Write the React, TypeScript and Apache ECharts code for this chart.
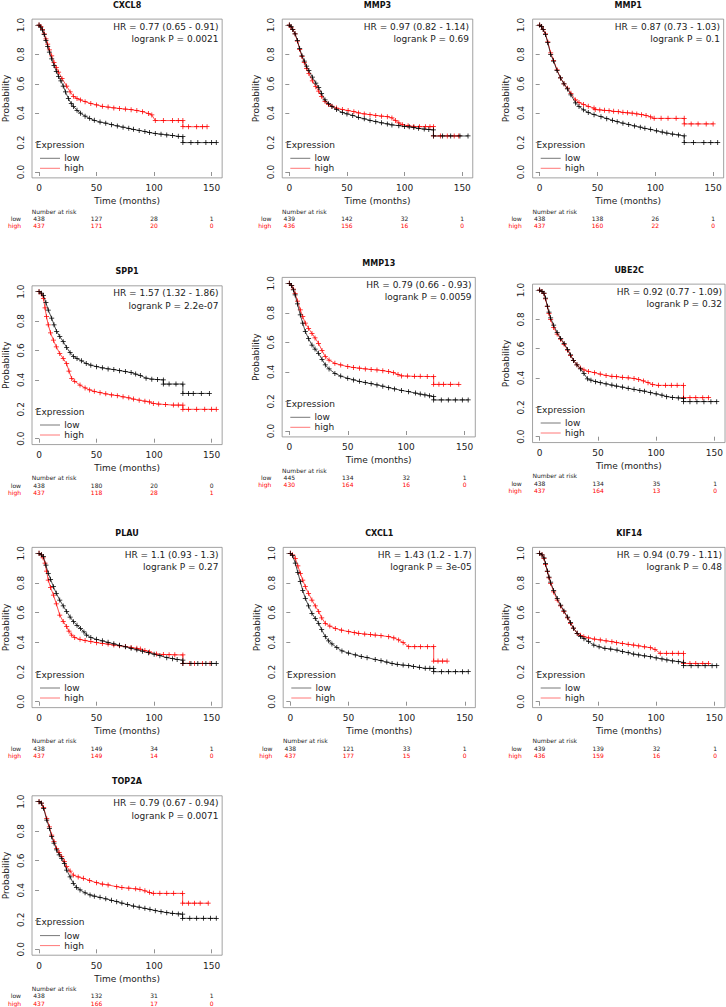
import React, { useEffect, useRef } from "react";
import * as echarts from "echarts";

const GENES = ["CXCL8", "MMP3", "MMP1", "SPP1", "MMP13", "UBE2C", "PLAU", "CXCL1", "KIF14", "TOP2A"];
const HR_LABELS = [
  "HR = 0.77 (0.65 - 0.91)", "HR = 0.97 (0.82 - 1.14)", "HR = 0.87 (0.73 - 1.03)",
  "HR = 1.57 (1.32 - 1.86)", "HR = 0.79 (0.66 - 0.93)", "HR = 0.92 (0.77 - 1.09)",
  "HR = 1.1 (0.93 - 1.3)", "HR = 1.43 (1.2 - 1.7)", "HR = 0.94 (0.79 - 1.11)",
  "HR = 0.79 (0.67 - 0.94)",
];
const P_LABELS = [
  "logrank P = 0.0021", "logrank P = 0.69", "logrank P = 0.1", "logrank P = 2.2e-07",
  "logrank P = 0.0059", "logrank P = 0.32", "logrank P = 0.27", "logrank P = 3e-05",
  "logrank P = 0.48", "logrank P = 0.0071",
];
const X_TICKS = [0, 50, 100, 150];
const Y_TICKS = [0, 0.2, 0.4, 0.6, 0.8, 1.0];
const RISK_TIMES = [0, 50, 100, 150];
const RISK_LOW = [
  [438, 127, 28, 1], [439, 142, 32, 1], [438, 138, 26, 1], [438, 180, 20, 0], [445, 134, 32, 1],
  [438, 134, 35, 1], [438, 149, 34, 1], [438, 121, 33, 1], [439, 139, 32, 1], [438, 132, 31, 1],
];
const RISK_HIGH = [
  [437, 171, 20, 0], [436, 156, 16, 0], [437, 160, 22, 0], [437, 118, 28, 1], [430, 164, 16, 0],
  [437, 164, 13, 0], [437, 149, 14, 0], [437, 177, 15, 0], [436, 159, 16, 0], [437, 166, 17, 0],
];

const CXCL8_LOW = [[0,1],[1.5,0.985],[3,0.965],[4.5,0.935],[6,0.895],[7.5,0.855],[9,0.815],[11,0.77],[13,0.725],[15,0.685],[17,0.65],[19,0.62],[21,0.585],[23,0.545],[25.5,0.5],[28,0.465],[30,0.445],[33,0.42],[36,0.4],[40,0.38],[44,0.365],[48,0.352],[53,0.34],[58,0.332],[63,0.322],[68,0.313],[73,0.305],[78,0.297],[82,0.29],[87,0.283],[92,0.275],[96,0.268],[101,0.262],[106,0.257],[111,0.252],[116,0.248],[121,0.243],[125,0.24],[125,0.2],[132,0.2],[138,0.2],[145,0.2],[150,0.2],[154,0.2]];
const CXCL8_HIGH = [[0,1],[1.5,0.99],[3,0.97],[4.5,0.94],[6,0.905],[7.5,0.87],[9,0.83],[11,0.79],[13,0.745],[15,0.71],[17,0.68],[20,0.635],[24,0.585],[27,0.545],[30,0.515],[33,0.5],[36,0.49],[40,0.478],[45,0.466],[50,0.456],[55,0.447],[60,0.442],[65,0.436],[70,0.432],[75,0.428],[80,0.424],[85,0.418],[90,0.41],[95,0.398],[98,0.388],[101,0.35],[108,0.35],[116,0.35],[121,0.35],[125,0.35],[125,0.308],[130,0.308],[137,0.308],[142,0.308],[146,0.308]];

const MMP3_LOW = [[0,1],[1.5,0.99],[3,0.97],[5,0.94],[7,0.895],[9,0.84],[11,0.79],[13,0.755],[15,0.72],[17,0.69],[20,0.645],[23,0.605],[25.5,0.575],[28,0.535],[31,0.49],[34,0.465],[37,0.445],[41,0.425],[46,0.405],[50,0.395],[55,0.385],[60,0.372],[65,0.362],[70,0.352],[75,0.342],[80,0.335],[85,0.327],[89,0.32],[95,0.315],[100,0.31],[104,0.307],[108,0.302],[112,0.297],[117,0.292],[121,0.289],[125,0.286],[125,0.245],[133,0.245],[140,0.245],[148,0.245],[155,0.245]];
const MMP3_HIGH = [[0,1],[1.5,0.985],[3,0.97],[5,0.94],[7,0.89],[9,0.835],[11,0.785],[13,0.745],[15,0.705],[17,0.67],[20,0.62],[23,0.58],[25.5,0.55],[28,0.515],[31,0.48],[34,0.46],[37,0.448],[41,0.435],[46,0.425],[51,0.418],[56,0.41],[60,0.402],[65,0.395],[70,0.39],[75,0.385],[80,0.38],[85,0.376],[89,0.368],[92,0.35],[95,0.335],[98,0.322],[103,0.315],[108,0.31],[113,0.308],[118,0.308],[122,0.308],[125,0.308],[125,0.245],[131,0.245],[137,0.245],[143,0.245],[147,0.245]];

const MMP1_LOW = [[0,1],[1.5,0.99],[3,0.97],[5,0.935],[7,0.88],[9.5,0.8],[12,0.755],[15,0.69],[18,0.64],[21,0.6],[24,0.565],[27,0.525],[31,0.47],[34,0.445],[38,0.423],[42,0.405],[47,0.39],[53,0.376],[58,0.363],[63,0.352],[67,0.342],[72,0.332],[77,0.323],[82,0.313],[87,0.305],[91,0.297],[96,0.29],[101,0.28],[106,0.272],[110,0.265],[115,0.258],[120,0.252],[125,0.245],[125,0.2],[133,0.2],[142,0.2],[148,0.2],[154,0.2]];
const MMP1_HIGH = [[0,1],[1.5,0.99],[3,0.97],[5,0.94],[7,0.885],[9.5,0.81],[12,0.76],[15,0.695],[18,0.64],[21,0.6],[24,0.57],[27,0.535],[31,0.49],[34,0.472],[38,0.46],[42,0.447],[47,0.435],[48,0.425],[52,0.422],[56,0.42],[60,0.417],[64,0.413],[68,0.41],[72,0.406],[76,0.403],[80,0.4],[84,0.395],[88,0.39],[92,0.385],[96,0.375],[99,0.365],[105,0.365],[111,0.365],[118,0.365],[125,0.365],[125,0.327],[131,0.327],[137,0.327],[144,0.327],[150,0.327]];

const SPP1_LOW = [[0,1],[2,0.99],[3.8,0.975],[6,0.925],[8,0.875],[11,0.82],[13,0.775],[15.3,0.73],[18,0.695],[21,0.66],[24,0.62],[27,0.585],[30,0.56],[33,0.545],[37,0.53],[41,0.512],[45,0.5],[50,0.49],[55,0.482],[60,0.475],[65,0.47],[70,0.463],[75,0.457],[80,0.45],[84,0.44],[88,0.43],[93,0.412],[98,0.405],[103,0.402],[108,0.4],[108,0.372],[113,0.372],[119,0.372],[125,0.372],[125,0.308],[130,0.308],[134,0.308],[141,0.308],[148,0.308]];
const SPP1_HIGH = [[0,1],[2,0.985],[3.8,0.955],[5.2,0.89],[6.5,0.83],[8,0.775],[10,0.72],[12.5,0.67],[15,0.625],[18,0.58],[21,0.545],[24,0.51],[26,0.46],[28.4,0.41],[31,0.39],[35.6,0.365],[40,0.345],[44,0.332],[48,0.322],[53,0.313],[58,0.305],[63,0.298],[68,0.293],[73,0.285],[78,0.278],[82,0.27],[87,0.262],[92,0.255],[96,0.25],[99.3,0.24],[104,0.236],[110,0.232],[116.7,0.229],[121,0.229],[125,0.229],[125,0.2],[130,0.2],[137,0.2],[144,0.2],[150,0.2],[154,0.2]];

const MMP13_LOW = [[0,1],[2,0.985],[3.5,0.955],[5,0.921],[7,0.86],[9.4,0.786],[11.5,0.73],[13.7,0.673],[16.5,0.625],[19.4,0.582],[22,0.555],[25,0.526],[28,0.485],[30.8,0.447],[34,0.42],[39,0.39],[44,0.372],[50,0.357],[55,0.346],[60,0.336],[65,0.328],[70,0.32],[75,0.312],[80,0.303],[85,0.293],[90,0.285],[96,0.275],[102,0.266],[108,0.257],[112,0.25],[116,0.244],[120,0.238],[123.5,0.232],[123.5,0.21],[130,0.21],[136,0.21],[142,0.21],[148,0.21],[153,0.21]];
const MMP13_HIGH = [[0,1],[2,0.985],[3.5,0.96],[5,0.93],[7,0.88],[9.4,0.82],[11.5,0.775],[13.7,0.73],[16.5,0.695],[19.4,0.66],[22,0.63],[25,0.594],[28,0.545],[30.8,0.503],[34,0.48],[39,0.458],[44,0.447],[50,0.436],[55,0.43],[60,0.425],[65,0.42],[70,0.417],[75,0.413],[80,0.408],[85,0.402],[89,0.395],[93,0.383],[96,0.373],[101,0.372],[107,0.37],[112,0.37],[118,0.369],[123.5,0.368],[123.5,0.316],[128,0.316],[132,0.316],[138,0.316],[145,0.316]];

const UBE2C_LOW = [[0,1],[2,0.99],[3.7,0.978],[5,0.945],[6.6,0.89],[8,0.85],[9.4,0.81],[12,0.76],[15,0.71],[18,0.67],[21,0.635],[24,0.595],[26.5,0.557],[29,0.52],[32,0.49],[35,0.462],[38,0.43],[41,0.395],[44,0.385],[48,0.375],[52,0.368],[57,0.36],[62,0.352],[66,0.345],[71,0.338],[76,0.33],[81,0.323],[86,0.315],[90,0.31],[95,0.3],[100,0.292],[105,0.283],[109,0.273],[114,0.268],[119,0.264],[123.5,0.261],[123.5,0.239],[129,0.239],[135,0.239],[141,0.239],[147,0.239],[152,0.239]];
const UBE2C_HIGH = [[0,1],[2,0.99],[3.7,0.975],[5,0.94],[6.6,0.886],[8,0.84],[9.4,0.8],[12,0.745],[15,0.7],[18,0.665],[21,0.63],[24,0.59],[26.5,0.555],[29,0.52],[32,0.49],[35,0.468],[38,0.455],[42,0.445],[47,0.436],[52,0.427],[57,0.418],[62,0.412],[66,0.409],[71,0.405],[76,0.401],[81,0.397],[85,0.39],[89,0.38],[93,0.368],[97,0.355],[102,0.35],[108,0.35],[113,0.35],[118,0.35],[123.5,0.35],[123.5,0.266],[129,0.266],[134,0.266],[140,0.266],[145,0.266]];

const PLAU_LOW = [[0,1],[2,0.99],[3.8,0.978],[6,0.92],[8,0.865],[10,0.825],[12.5,0.775],[15,0.73],[18,0.685],[21,0.645],[24,0.607],[27,0.57],[30,0.539],[33,0.515],[36,0.494],[39,0.47],[41.4,0.449],[45,0.432],[50,0.42],[55,0.41],[60,0.4],[65,0.39],[70,0.38],[75,0.37],[80,0.36],[85,0.35],[90,0.34],[95,0.33],[100,0.32],[105,0.31],[111,0.297],[116,0.29],[120,0.285],[125,0.28],[125,0.258],[132,0.258],[138,0.258],[145,0.258],[150,0.258],[154,0.258]];
const PLAU_HIGH = [[0,1],[2,0.99],[3.5,0.97],[5.2,0.933],[6.5,0.88],[8,0.82],[10,0.77],[12.5,0.719],[15,0.66],[18,0.584],[21,0.54],[24,0.506],[26,0.475],[28.4,0.449],[31,0.432],[35.6,0.42],[40,0.412],[45,0.405],[50,0.398],[55,0.393],[60,0.388],[65,0.382],[70,0.377],[75,0.372],[80,0.366],[85,0.36],[88,0.355],[92,0.345],[96,0.335],[102,0.321],[108,0.318],[113,0.317],[118,0.316],[125,0.315],[125,0.258],[131,0.258],[135,0.258],[142,0.258],[148.6,0.258]];

const CXCL1_LOW = [[0,1],[2,0.985],[4.3,0.933],[6.5,0.87],[8.6,0.809],[10.7,0.75],[12.9,0.697],[15.7,0.645],[18.6,0.596],[21.5,0.56],[24.4,0.528],[27,0.485],[30.1,0.438],[33,0.41],[35.8,0.389],[40,0.365],[44.4,0.342],[50,0.328],[55.9,0.315],[61,0.305],[66,0.297],[73,0.285],[78,0.276],[83,0.267],[87.5,0.258],[92,0.252],[97,0.247],[101.8,0.243],[106,0.238],[111,0.232],[116,0.225],[120,0.225],[123.3,0.225],[123.3,0.202],[130,0.202],[136,0.202],[142,0.202],[148,0.202],[153,0.202]];
const CXCL1_HIGH = [[0,1],[2,0.99],[4.3,0.966],[6.5,0.915],[8.6,0.865],[10.7,0.82],[12.9,0.775],[15.7,0.73],[18.6,0.685],[21.5,0.645],[24.4,0.607],[27,0.565],[30.1,0.528],[34,0.51],[38.7,0.494],[44,0.482],[50.2,0.472],[55,0.465],[58.8,0.461],[64,0.456],[69,0.452],[73,0.449],[78,0.445],[84.6,0.438],[89,0.43],[93.2,0.416],[97,0.398],[101.8,0.371],[107,0.371],[112,0.371],[118,0.371],[123.3,0.371],[123.3,0.274],[127,0.274],[131,0.274],[134.8,0.274]];

const KIF14_LOW = [[0,1],[2,0.99],[3.7,0.97],[5,0.93],[6.6,0.88],[8,0.84],[9.4,0.805],[12,0.75],[15.1,0.695],[18,0.65],[20.8,0.612],[24,0.57],[26.5,0.533],[29,0.495],[32.2,0.461],[35,0.44],[38,0.425],[42,0.405],[46.5,0.382],[51,0.37],[56,0.36],[61,0.355],[66.4,0.348],[71,0.338],[76,0.33],[80.7,0.321],[85,0.315],[90,0.309],[95,0.303],[100,0.295],[105,0.288],[109.2,0.281],[114,0.275],[119,0.27],[123.5,0.265],[123.5,0.243],[130,0.243],[136,0.243],[142,0.243],[148,0.243],[152,0.243]];
const KIF14_HIGH = [[0,1],[2,0.99],[3.7,0.966],[5,0.925],[6.6,0.876],[8,0.835],[9.4,0.798],[12,0.74],[15.1,0.685],[18,0.645],[20.8,0.607],[24,0.565],[26.5,0.528],[29,0.495],[32.2,0.461],[35,0.447],[37.9,0.438],[42,0.43],[47,0.422],[52,0.416],[57,0.41],[62,0.404],[66,0.398],[71,0.393],[76,0.387],[80.7,0.382],[85,0.376],[90,0.37],[95,0.364],[99,0.352],[103.5,0.326],[109,0.326],[114,0.326],[119,0.326],[123.5,0.326],[123.5,0.258],[129,0.258],[134,0.258],[140,0.258],[144.9,0.258]];

const TOP2A_LOW = [[0,1],[2,0.99],[4,0.955],[6.7,0.876],[9,0.82],[11,0.763],[13,0.72],[15.3,0.673],[17.5,0.64],[19.7,0.616],[22,0.58],[24,0.537],[27,0.49],[29.8,0.447],[32.5,0.42],[35.6,0.402],[40,0.383],[44.3,0.368],[48,0.36],[53,0.352],[58,0.342],[63,0.332],[67.5,0.323],[72,0.313],[77,0.303],[82,0.293],[87,0.285],[92,0.278],[96.4,0.271],[101,0.262],[106,0.255],[111,0.248],[116,0.244],[121,0.24],[124.8,0.238],[124.8,0.21],[131,0.21],[137,0.21],[143,0.21],[149,0.21],[154,0.21]];
const TOP2A_HIGH = [[0,1],[2,0.99],[4,0.96],[6.7,0.887],[9,0.83],[11,0.774],[13,0.73],[15.3,0.684],[17.5,0.655],[19.7,0.628],[22,0.595],[24,0.56],[27,0.53],[29.8,0.503],[34,0.49],[38.5,0.481],[44,0.466],[50,0.451],[55,0.442],[60,0.436],[67.5,0.424],[72,0.418],[78,0.414],[84,0.41],[87.7,0.406],[92,0.396],[96,0.386],[99.3,0.379],[105,0.379],[111,0.379],[117,0.379],[124.8,0.379],[124.8,0.312],[130,0.312],[135,0.312],[140,0.312],[147,0.312]];

const LOW_CURVES = [CXCL8_LOW, MMP3_LOW, MMP1_LOW, SPP1_LOW, MMP13_LOW, UBE2C_LOW, PLAU_LOW, CXCL1_LOW, KIF14_LOW, TOP2A_LOW];
const HIGH_CURVES = [CXCL8_HIGH, MMP3_HIGH, MMP1_HIGH, SPP1_HIGH, MMP13_HIGH, UBE2C_HIGH, PLAU_HIGH, CXCL1_HIGH, KIF14_HIGH, TOP2A_HIGH];

// layout of each panel: pixel of time 0, px per month, pixel of probability 1.0, px per unit probability
const LAYOUT = [
  { x0: 39, sx: 1.151, y1: 25, sy: 147 },
  { x0: 289.3, sx: 1.153, y1: 25, sy: 147 },
  { x0: 539.7, sx: 1.156, y1: 25, sy: 147 },
  { x0: 39, sx: 1.151, y1: 291.7, sy: 147 },
  { x0: 289.3, sx: 1.169, y1: 283.3, sy: 147.7 },
  { x0: 539.7, sx: 1.169, y1: 290, sy: 146.7 },
  { x0: 39, sx: 1.151, y1: 553.3, sy: 148.4 },
  { x0: 290.3, sx: 1.163, y1: 553.3, sy: 148.4 },
  { x0: 539.7, sx: 1.169, y1: 553.3, sy: 148.4 },
  { x0: 39, sx: 1.151, y1: 801.7, sy: 147.6 },
];

const X_MIN = -6.12;
const X_MAX = 159.12;
const Y_MIN = -0.04;
const Y_MAX = 1.04;
const FONT = "DejaVu Sans";
const TXT = "#222";
const RED = "#ff0000";
const BLACK = "#000000";
const PLUS = "path://M4.25,0H5.75V4.25H10V5.75H5.75V10H4.25V5.75H0V4.25H4.25Z";

function buildOption() {
  const grid: any[] = [];
  const xAxis: any[] = [];
  const yAxis: any[] = [];
  const series: any[] = [];
  const graphic: any[] = [];

  const text = (x: number, y: number, t: string, size: number, align: string, color = TXT, weight = "normal") => ({
    type: "text",
    x,
    y,
    silent: true,
    style: { text: t, fill: color, fontSize: size, fontFamily: FONT, fontWeight: weight, align, verticalAlign: "middle" },
  });

  LAYOUT.forEach((L, i) => {
    const left = L.x0 + X_MIN * L.sx;
    const right = L.x0 + X_MAX * L.sx;
    const top = L.y1 - (Y_MAX - 1) * L.sy;
    const y0 = L.y1 + L.sy;
    const bottom = L.y1 + (1 - Y_MIN) * L.sy;
    grid.push({
      left,
      top,
      width: right - left,
      height: bottom - top,
      show: true,
      borderColor: "#8a8a8a",
      borderWidth: 0.8,
      backgroundColor: "transparent",
    });
    xAxis.push({
      type: "value",
      gridIndex: i,
      min: X_MIN,
      max: X_MAX,
      axisLine: { show: false },
      splitLine: { show: false },
      axisTick: { show: true, length: 4, lineStyle: { color: "#777", width: 0.8 }, customValues: X_TICKS },
      axisLabel: { customValues: X_TICKS, fontSize: 9, fontFamily: FONT, color: TXT, margin: 6 },
      name: "Time (months)",
      nameLocation: "middle",
      nameGap: 19,
      nameTextStyle: { fontSize: 9, fontFamily: FONT, color: TXT },
    });
    yAxis.push({
      type: "value",
      gridIndex: i,
      min: Y_MIN,
      max: Y_MAX,
      axisLine: { show: false },
      splitLine: { show: false },
      axisTick: { show: true, length: 4, lineStyle: { color: "#777", width: 0.8 }, customValues: Y_TICKS },
      axisLabel: {
        customValues: Y_TICKS,
        rotate: 90,
        fontSize: 9,
        fontFamily: FONT,
        color: TXT,
        margin: 7,
        formatter: (v: number) => v.toFixed(1),
      },
      name: "Probability",
      nameLocation: "middle",
      nameRotate: 90,
      nameGap: 22,
      nameTextStyle: { fontSize: 9, fontFamily: FONT, color: TXT },
    });
    [
      { data: LOW_CURVES[i], color: BLACK, z: 3 },
      { data: HIGH_CURVES[i], color: RED, z: 2 },
    ].forEach((s) => {
      series.push({
        type: "line",
        xAxisIndex: i,
        yAxisIndex: i,
        data: s.data,
        silent: true,
        z: s.z,
        symbol: PLUS,
        symbolSize: 5,
        showSymbol: true,
        showAllSymbol: true,
        lineStyle: { color: s.color, width: 0.7 },
        itemStyle: { color: s.color },
        emphasis: { disabled: true },
      });
    });

    const cx = (left + right) / 2;
    graphic.push(text(cx, L.y1 - 20, GENES[i], 8, "center", "#111", "bold"));
    graphic.push(text(right - 3.7, L.y1 + 1.7, HR_LABELS[i], 9, "right"));
    graphic.push(text(right - 3.7, L.y1 + 14, P_LABELS[i], 9, "right"));
    graphic.push(text(L.x0 - 3.3, y0 - 27, "Expression", 9, "left"));
    graphic.push({
      type: "line",
      silent: true,
      shape: { x1: L.x0 + 1, y1: y0 - 13.7, x2: L.x0 + 21, y2: y0 - 13.7 },
      style: { stroke: "#555", lineWidth: 0.8 },
    });
    graphic.push({
      type: "line",
      silent: true,
      shape: { x1: L.x0 + 1, y1: y0 - 3.7, x2: L.x0 + 21, y2: y0 - 3.7 },
      style: { stroke: "#ff5555", lineWidth: 0.8 },
    });
    graphic.push(text(L.x0 + 25.3, y0 - 13.7, "low", 9, "left"));
    graphic.push(text(L.x0 + 25.3, y0 - 3.7, "high", 9, "left"));
    graphic.push(text(L.x0 - 7.3, y0 + 39, "Number at risk", 6, "left"));
    graphic.push(text(L.x0 - 18, y0 + 46.3, "low", 6, "right"));
    graphic.push(text(L.x0 - 18, y0 + 53.7, "high", 6, "right", RED));
    RISK_TIMES.forEach((t, k) => {
      const px = L.x0 + t * L.sx;
      graphic.push(text(px, y0 + 46.3, String(RISK_LOW[i][k]), 6, "center"));
      graphic.push(text(px, y0 + 53.7, String(RISK_HIGH[i][k]), 6, "center", RED));
    });
  });

  return {
    animation: false,
    backgroundColor: "#ffffff",
    grid,
    xAxis,
    yAxis,
    series,
    graphic,
  };
}

export default function App() {
  const ref = useRef<HTMLDivElement>(null);
  useEffect(() => {
    if (!ref.current) return;
    const chart = echarts.init(ref.current, undefined, { renderer: "svg" });
    chart.setOption(buildOption() as any);
    return () => chart.dispose();
  }, []);
  return (
    <div
      ref={ref}
      style={{ position: "absolute", left: 0, top: 0, width: 726, height: 1007, background: "#fff" }}
    />
  );
}
